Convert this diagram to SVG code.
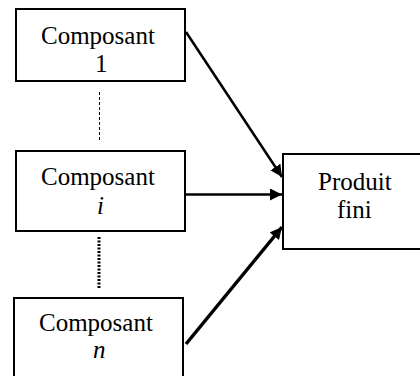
<svg xmlns="http://www.w3.org/2000/svg" width="420" height="376" viewBox="0 0 420 376">
  <defs>
    <!-- filled triangular arrowhead shared by the three links -->
    <marker id="head" viewBox="0 0 10 10" refX="10" refY="5" markerWidth="12" markerHeight="12" markerUnits="userSpaceOnUse" orient="auto">
      <path d="M0,0 L10,5 L0,10 z" fill="#000000"/>
    </marker>
  </defs>

  <g id="connectors" stroke="#000000" fill="none">
    <line stroke-width="1" stroke-dasharray="3 2" x1="99.5" y1="92" x2="99.5" y2="140"/>
    <line stroke-width="3" stroke-dasharray="2 1.5" x1="99" y1="237" x2="99" y2="288"/>
    <line stroke-width="2.5" marker-end="url(#head)" x1="186" y1="32" x2="282" y2="177"/>
    <line stroke-width="2.5" marker-end="url(#head)" x1="186" y1="194.5" x2="282" y2="194.5"/>
    <line stroke-width="3.5" marker-end="url(#head)" x1="186" y1="344" x2="282" y2="227"/>
  </g>

  <g id="composant-1">
    <rect fill="#ffffff" stroke="#000000" stroke-width="2" x="16" y="9" width="169" height="72"/>
    <text font-family="Times New Roman" font-size="25" x="41" y="44">Composant</text>
    <text font-family="Times New Roman" font-size="25" x="95" y="72">1</text>
  </g>

  <g id="composant-i">
    <rect fill="#ffffff" stroke="#000000" stroke-width="2" x="16" y="151" width="169" height="80"/>
    <text font-family="Times New Roman" font-size="25" x="41" y="185">Composant</text>
    <text font-family="Times New Roman" font-size="25" font-style="italic" x="97" y="214">i</text>
  </g>

  <g id="composant-n">
    <rect fill="#ffffff" stroke="#000000" stroke-width="2" x="14" y="298" width="169" height="90"/>
    <text font-family="Times New Roman" font-size="25" x="39" y="331">Composant</text>
    <text font-family="Times New Roman" font-size="25" font-style="italic" x="93" y="358">n</text>
  </g>

  <g id="produit-fini">
    <rect fill="#ffffff" stroke="#000000" stroke-width="2" x="283" y="154" width="145" height="95"/>
    <text font-family="Times New Roman" font-size="25" x="318" y="190">Produit</text>
    <text font-family="Times New Roman" font-size="25" x="337" y="218">fini</text>
  </g>
</svg>
